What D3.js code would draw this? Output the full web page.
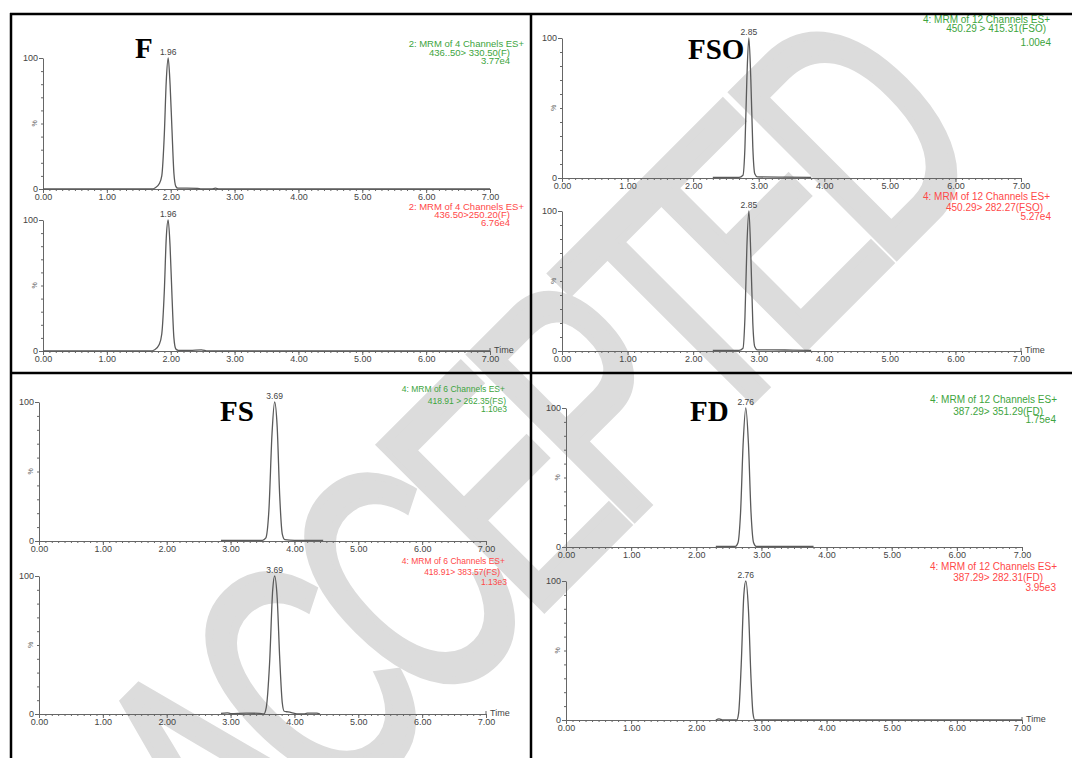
<!DOCTYPE html>
<html>
<head>
<meta charset="utf-8">
<script src="https://cdn.jsdelivr.net/npm/d3@7"></script>
<style>
  body { margin: 0; background: #fff; }
  svg text { font-family: "Liberation Sans", Arial, sans-serif; }
</style>
</head>
<body>
<svg id="chart" width="1072" height="758"></svg>
<script>
// x ticks (time, min) shared by every trace
const timeTicks = [0, 1, 2, 3, 4, 5, 6, 7];

// traces: [time, % of base peak]
const traceF330 = [[0,0],[1.70,0],[1.76,1],[1.82,4],[1.86,10],[1.90,42],[1.93,82],[1.96,100],[1.99,80],[2.02,45],[2.05,12],[2.08,2],[2.11,0.6],[2.25,0.7],[2.42,0.4],[2.48,0],[2.64,0],[2.70,0.7],[2.76,0],[7,0]];
const traceF250 = [[0,0],[1.68,0],[1.75,1],[1.82,5],[1.86,13],[1.90,46],[1.93,86],[1.96,100],[1.99,80],[2.02,42],[2.05,10],[2.08,1.5],[2.12,0.5],[2.30,0.5],[2.48,0.9],[2.58,0],[7,0]];
const traceFSO415 = [[2.30,0.5],[2.70,0.5],[2.76,2],[2.79,22],[2.82,72],[2.85,100],[2.88,70],[2.91,22],[2.94,3],[2.98,0.8],[3.40,0.6],[3.80,0.5]];
const traceFSO282 = [[2.30,0.5],[2.70,0.5],[2.76,2],[2.79,24],[2.82,75],[2.85,100],[2.88,68],[2.91,20],[2.94,3],[2.98,0.8],[3.40,0.7],[3.80,0.5]];
const traceFS262 = [[2.85,0.5],[3.50,0.5],[3.55,2],[3.60,22],[3.65,78],[3.69,100],[3.73,82],[3.77,32],[3.81,5],[3.85,1],[4.00,0.5],[4.45,0.5]];
const traceFS383 = [[2.85,0.5],[2.95,0.8],[3.00,0.3],[3.25,0.6],[3.45,0.5],[3.52,0],[3.56,5],[3.61,36],[3.66,90],[3.69,100],[3.73,84],[3.77,40],[3.81,8],[3.84,2],[3.90,1.5],[4.00,0.5],[4.05,0],[4.15,0],[4.20,0.6],[4.35,0.6],[4.40,0]];
const traceFD351 = [[2.30,0.5],[2.60,0.5],[2.64,3],[2.68,25],[2.72,75],[2.76,100],[2.80,75],[2.84,25],[2.88,3],[2.92,0.5],[3.80,0.5]];
const traceFD282 = [[2.30,0],[2.35,0.8],[2.40,0],[2.62,0],[2.65,5],[2.69,40],[2.73,90],[2.76,100],[2.80,80],[2.84,30],[2.87,5],[2.90,0],[7,0]];

// peak retention times
const peakTimes = [1.96, 1.96, 2.85, 2.85, 3.69, 3.69, 2.76, 2.76];

// header texts of each trace
const headF330 = ["2: MRM of 4 Channels  ES+", "436..50> 330.50(F)", "3.77e4"];
const headF250 = ["2: MRM of 4 Channels  ES+", "436.50>250.20(F)", "6.76e4"];
const headFSO415 = ["4: MRM of 12 Channels ES+", "450.29 > 415.31(FSO)", "1.00e4"];
const headFSO282 = ["4: MRM of 12 Channels ES+", "450.29> 282.27(FSO)", "5.27e4"];
const headFS262 = ["4: MRM of 6 Channels  ES+", "418.91 > 262.35(FS)", "1.10e3"];
const headFS383 = ["4: MRM of 6 Channels  ES+", "418.91> 383.57(FS)", "1.13e3"];
const headFD351 = ["4: MRM of 12 Channels  ES+", "387.29> 351.29(FD)", "1.75e4"];
const headFD282 = ["4: MRM of 12 Channels  ES+", "387.29> 282.31(FD)", "3.95e3"];

const compounds = ["F", "FSO", "FS", "FD"];

const green = "#3da43d";
const red = "#ff4848";

const svg = d3.select("#chart");

// watermark behind everything (tall, tight, diagonal)
svg.append("text")
  .attr("transform", "translate(612,540) rotate(-45) scale(0.66,1)")
  .attr("text-anchor", "middle")
  .attr("letter-spacing", -30)
  .style("font-size", "335px")
  .style("fill", "#dcdcdc")
  .style("stroke", "#dcdcdc")
  .style("stroke-width", "9px")
  .text("ACCEPTED");

// layout of every plot: x range for 0..7 and y range for 0..100
const plots = [
  { data: traceF330, head: headF330, peak: peakTimes[0], color: green, x: [43, 490], y: [189, 58], headX: [524, 510, 510], headY: [47, 56, 64], fs: 9.5, time: false },
  { data: traceF250, head: headF250, peak: peakTimes[1], color: red, x: [43, 490], y: [351, 220], headX: [524, 510, 510], headY: [210, 218, 226], fs: 9.5, time: true },
  { data: traceFSO415, head: headFSO415, peak: peakTimes[2], color: green, x: [562, 1021], y: [178, 38], headX: [1050, 1046, 1051], headY: [23, 32, 46], fs: 10, time: false },
  { data: traceFSO282, head: headFSO282, peak: peakTimes[3], color: red, x: [562, 1021], y: [351, 211], headX: [1050, 1043, 1051], headY: [200, 211, 220], fs: 10, time: true },
  { data: traceFS262, head: headFS262, peak: peakTimes[4], color: green, x: [39, 486], y: [541, 402], headX: [505, 506, 507], headY: [392, 404, 412], fs: 8.5, time: false },
  { data: traceFS383, head: headFS383, peak: peakTimes[5], color: red, x: [39, 486], y: [714, 576], headX: [505, 500, 507], headY: [564, 575, 585], fs: 8.5, time: true },
  { data: traceFD351, head: headFD351, peak: peakTimes[6], color: green, x: [566, 1022], y: [547, 408], headX: [1057, 1043, 1056], headY: [403, 415, 423], fs: 10, time: false },
  { data: traceFD282, head: headFD282, peak: peakTimes[7], color: red, x: [566, 1022], y: [720, 581], headX: [1057, 1043, 1056], headY: [570, 581, 591], fs: 10, time: true }
];

plots.forEach(p => {
  const x = d3.scaleLinear().domain([0, 7]).range(p.x);
  const y = d3.scaleLinear().domain([0, 100]).range(p.y);
  const g = svg.append("g");

  // minor x ticks
  g.append("g")
    .attr("transform", `translate(0,${p.y[0]})`)
    .call(d3.axisBottom(x).tickValues(d3.range(0, 71).map(i => i / 10)).tickSize(2).tickSizeOuter(0).tickFormat(""))
    .call(a => a.select(".domain").remove());

  // major x ticks
  const xa = g.append("g")
    .attr("transform", `translate(0,${p.y[0]})`)
    .call(d3.axisBottom(x).tickValues(timeTicks).tickSize(4).tickSizeOuter(0).tickPadding(1).tickFormat(d3.format(".2f")));
  xa.selectAll("text").style("font-size", "9px").attr("fill", "#444");

  // y axis: minor every 10, labels at 0 and 100
  g.append("g")
    .attr("transform", `translate(${p.x[0]},0)`)
    .call(d3.axisLeft(y).tickValues(d3.range(0, 101, 10)).tickSize(2).tickSizeOuter(0).tickFormat(""));
  const ya = g.append("g")
    .attr("transform", `translate(${p.x[0]},0)`)
    .call(d3.axisLeft(y).tickValues([0, 100]).tickSize(4).tickSizeOuter(0).tickPadding(1));
  ya.select(".domain").remove();
  ya.selectAll("text").style("font-size", "9px").attr("fill", "#444");

  g.selectAll(".domain, .tick line").attr("stroke", "#666");

  g.append("text")
    .attr("transform", `translate(${p.x[0] - 6},${y(50)}) rotate(-90)`)
    .attr("text-anchor", "middle")
    .style("font-size", "7px")
    .attr("fill", "#666")
    .text("%");

  if (p.time) {
    g.append("line")
      .attr("x1", p.x[1]).attr("x2", p.x[1])
      .attr("y1", p.y[0]).attr("y2", p.y[0] - 3)
      .attr("stroke", "#666");
    g.append("text")
      .attr("x", p.x[1] + 4).attr("y", p.y[0] + 2)
      .style("font-size", "9px")
      .attr("fill", "#444")
      .text("Time");
  }

  // chromatogram trace
  g.append("path")
    .datum(p.data)
    .attr("fill", "none")
    .attr("stroke", "#5a5a5a")
    .attr("stroke-width", 1.3)
    .attr("d", d3.line().x(d => x(d[0])).y(d => y(d[1])).curve(d3.curveMonotoneX));

  // peak time label
  g.append("text")
    .attr("x", x(p.peak)).attr("y", y(100) - 3)
    .attr("text-anchor", "middle")
    .style("font-size", "8.5px")
    .attr("fill", "#444")
    .text(p.peak.toFixed(2));

  // header lines
  p.head.forEach((t, i) => {
    g.append("text")
      .attr("x", p.headX[i]).attr("y", p.headY[i])
      .attr("text-anchor", "end")
      .style("font-size", p.fs + "px")
      .attr("fill", p.color)
      .text(t);
  });
});

// compound names
const titlePos = [[135, 58], [688, 59], [220, 421], [690, 421]];
compounds.forEach((c, i) => {
  svg.append("text")
    .attr("x", titlePos[i][0]).attr("y", titlePos[i][1])
    .style("font-family", "'Liberation Serif', 'Times New Roman', serif")
    .style("font-weight", "bold")
    .style("font-size", "29px")
    .attr("fill", "#000")
    .text(c);
});

// table frame
const frame = svg.append("g").attr("stroke", "#000").attr("stroke-width", 2.5);
frame.append("line").attr("x1", 10).attr("x2", 1072).attr("y1", 14).attr("y2", 14);
frame.append("line").attr("x1", 10).attr("x2", 1072).attr("y1", 373).attr("y2", 373);
frame.append("line").attr("x1", 11).attr("x2", 11).attr("y1", 13).attr("y2", 758);
frame.append("line").attr("x1", 531).attr("x2", 531).attr("y1", 13).attr("y2", 758);
</script>
</body>
</html>
